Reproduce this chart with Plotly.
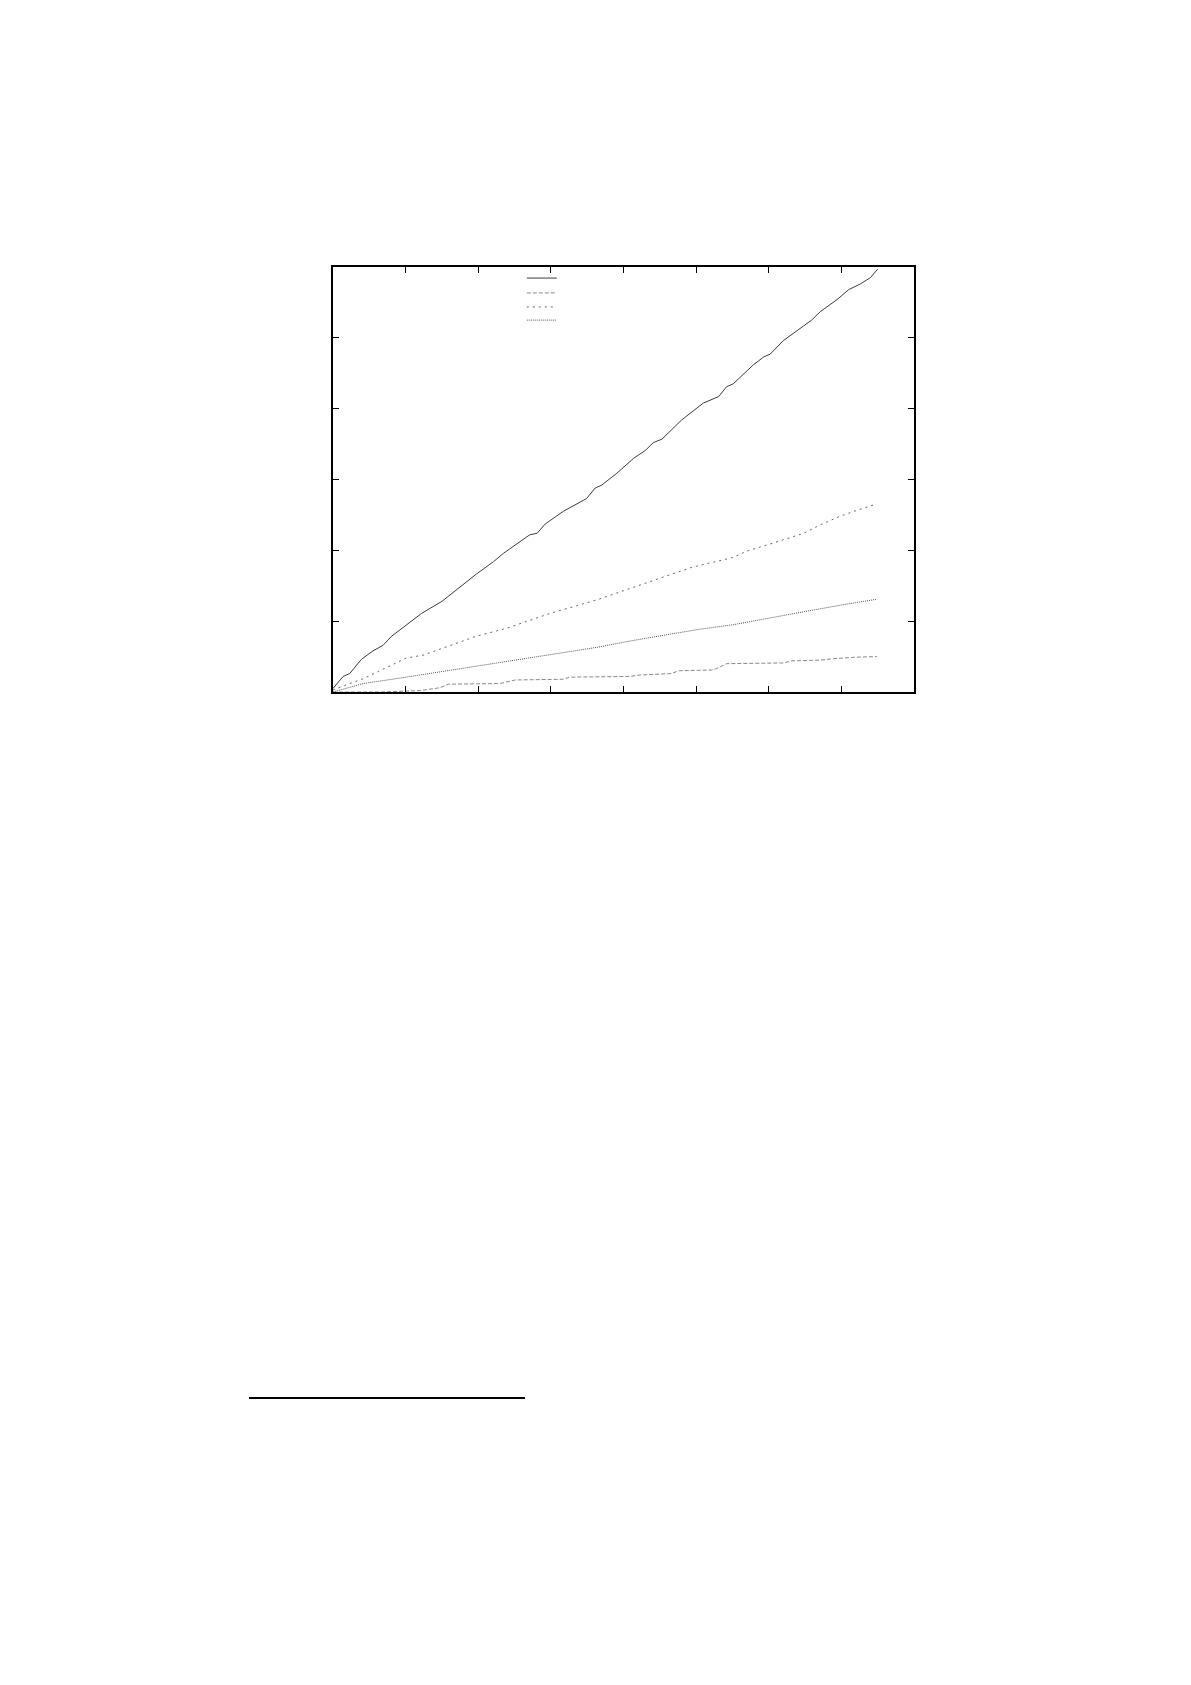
import plotly.graph_objects as go

# series (x in axis units 0..8, y in axis units 0..6)
solid_x = [0, 0.14, 0.23, 0.39, 0.55, 0.69, 0.81, 1.01, 1.22, 1.50, 1.70, 1.98, 2.21, 2.35,
           2.71, 2.81, 2.92, 3.17, 3.49, 3.61, 3.70, 3.91, 4.14, 4.30, 4.41, 4.53, 4.80,
           5.10, 5.31, 5.42, 5.51, 5.79, 5.93, 6.02, 6.20, 6.43, 6.59, 6.71, 6.94, 7.10,
           7.26, 7.40, 7.50]
solid_y = [0.05, 0.22, 0.26, 0.46, 0.58, 0.66, 0.79, 0.95, 1.11, 1.28, 1.44, 1.67, 1.84, 1.96,
           2.22, 2.24, 2.37, 2.55, 2.73, 2.88, 2.92, 3.09, 3.30, 3.41, 3.52, 3.57, 3.84,
           4.08, 4.17, 4.31, 4.35, 4.62, 4.73, 4.77, 4.96, 5.13, 5.25, 5.37, 5.54, 5.68,
           5.76, 5.85, 5.97]

step_x = [0, 0.65, 1.20, 1.47, 1.59, 2.30, 2.51, 3.17, 3.26, 4.09, 4.23, 4.66, 4.76, 5.21,
          5.28, 5.42, 6.20, 6.32, 6.71, 6.89, 7.17, 7.49]
step_y = [0, 0.0, 0.02, 0.06, 0.11, 0.12, 0.17, 0.18, 0.21, 0.22, 0.24, 0.26, 0.30, 0.31,
          0.33, 0.40, 0.41, 0.44, 0.45, 0.47, 0.49, 0.50]

short_x = [0, 0.42, 1.01, 1.24, 1.57, 1.98, 2.39, 2.99, 3.63, 4.09, 4.41, 4.94, 5.51, 5.70,
           6.02, 6.48, 6.71, 6.98, 7.17, 7.47]
short_y = [0.03, 0.19, 0.48, 0.52, 0.64, 0.79, 0.90, 1.11, 1.30, 1.46, 1.58, 1.76, 1.90, 1.99,
           2.09, 2.24, 2.36, 2.48, 2.55, 2.65]

dot_x = [0, 0.42, 1.01, 1.70, 2.39, 2.99, 3.63, 4.09, 5.01, 5.51, 6.02, 6.52, 7.01, 7.49]
dot_y = [0.0, 0.12, 0.21, 0.32, 0.43, 0.52, 0.63, 0.72, 0.88, 0.95, 1.05, 1.14, 1.23, 1.31]

fig = go.Figure()
fig.add_trace(go.Scatter(x=solid_x, y=solid_y, mode="lines", name=" ", legend="legend",
                         line=dict(color="#3c3c3c", width=1)))
fig.add_trace(go.Scatter(x=step_x, y=step_y, mode="lines", name=" ", legend="legend2",
                         line=dict(color="#888888", width=1, dash="4px,2px")))
fig.add_trace(go.Scatter(x=short_x, y=short_y, mode="lines", name=" ", legend="legend3",
                         line=dict(color="#666666", width=1, dash="2px,4px")))
fig.add_trace(go.Scatter(x=dot_x, y=dot_y, mode="lines", name=" ", legend="legend4",
                         line=dict(color="#555555", width=1, dash="1px,1px")))

axis = dict(showline=True, linecolor="black", linewidth=1.5, mirror="allticks",
            ticks="inside", ticklen=6, tickcolor="black", tickwidth=1.2,
            showticklabels=False, showgrid=False, zeroline=False, dtick=1)


def key(y):
    return dict(x=0.325, y=y, xanchor="left", yanchor="middle",
                bgcolor="rgba(0,0,0,0)", font=dict(size=8, family="DejaVu Sans"),
                itemwidth=30)


# page body has an 8px margin, so the margins are shortened by that much
fig.update_layout(
    width=1175, height=1669,
    margin=dict(l=325, r=269, t=259, b=985),
    paper_bgcolor="white", plot_bgcolor="white",
    xaxis=dict(range=[0, 8], **axis),
    yaxis=dict(range=[0, 6], **axis),
    showlegend=True,
    legend=key(0.974),
    legend2=key(0.939),
    legend3=key(0.906),
    legend4=key(0.875),
    shapes=[dict(type="line", xref="paper", yref="paper",
                 x0=-0.1446, x1=0.3305, y0=-1.661, y1=-1.661,
                 line=dict(color="black", width=2))],
)

fig.write_html("out.html")
